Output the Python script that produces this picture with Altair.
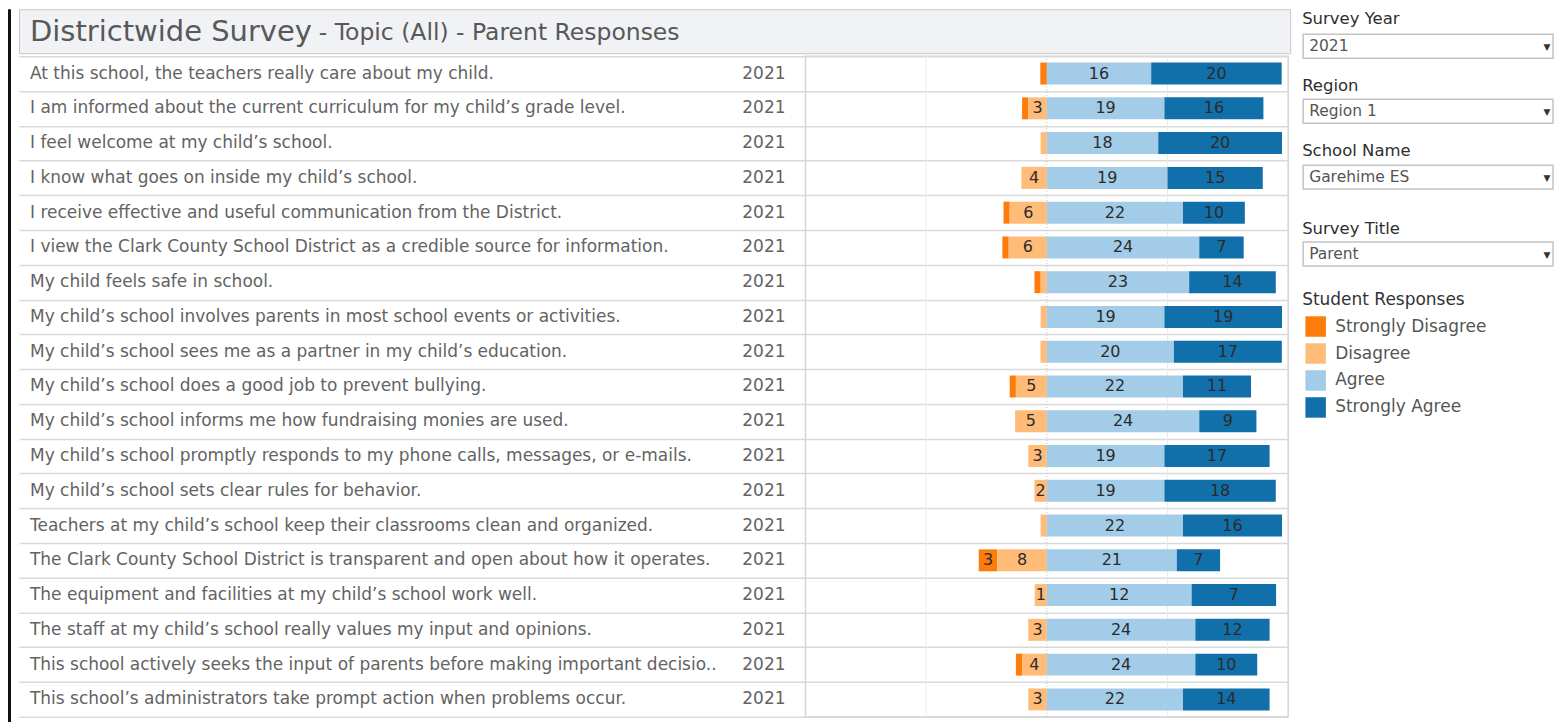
import altair as alt
import pandas as pd

# ---------------- data ----------------
questions = [
    "At this school, the teachers really care about my child.",
    "I am informed about the current curriculum for my child’s grade level.",
    "I feel welcome at my child’s school.",
    "I know what goes on inside my child’s school.",
    "I receive effective and useful communication from the District.",
    "I view the Clark County School District as a credible source for information.",
    "My child feels safe in school.",
    "My child’s school involves parents in most school events or activities.",
    "My child’s school sees me as a partner in my child’s education.",
    "My child’s school does a good job to prevent bullying.",
    "My child’s school informs me how fundraising monies are used.",
    "My child’s school promptly responds to my phone calls, messages, or e-mails.",
    "My child’s school sets clear rules for behavior.",
    "Teachers at my child’s school keep their classrooms clean and organized.",
    "The Clark County School District is transparent and open about how it operates.",
    "The equipment and facilities at my child’s school work well.",
    "The staff at my child’s school really values my input and opinions.",
    "This school actively seeks the input of parents before making important decisio..",
    "This school’s administrators take prompt action when problems occur.",
]
years = ["2021"] * len(questions)
strongly_disagree = [1, 1, 0, 0, 1, 1, 1, 0, 0, 1, 0, 0, 0, 0, 3, 0, 0, 1, 0]
disagree = [0, 3, 1, 4, 6, 6, 1, 1, 1, 5, 5, 3, 2, 1, 8, 1, 3, 4, 3]
agree = [16, 19, 18, 19, 22, 24, 23, 19, 20, 22, 24, 19, 19, 22, 21, 12, 24, 24, 22]
strongly_agree = [20, 16, 20, 15, 10, 7, 14, 19, 17, 11, 9, 17, 18, 16, 7, 7, 12, 10, 14]

responses = ["Strongly Disagree", "Disagree", "Agree", "Strongly Agree"]
colors = ["#fc7d0b", "#ffbc79", "#a3cce9", "#1170aa"]
gridlines = [-50, 50]
zero_line = [0]

title_main = "Districtwide Survey"
title_sub = "- Topic (All) - Parent Responses"
filter_names = ["Survey Year", "Region", "School Name", "Survey Title"]
filter_values = ["2021", "Region 1", "Garehime ES", "Parent"]
legend_title = "Student Responses"

FONT = "DejaVu Sans"

# ---------------- tables ----------------
series = [strongly_disagree, disagree, agree, strongly_agree]
rows = []
for i, q in enumerate(questions):
    for r, s in zip(responses, series):
        rows.append({"question": q, "response": r, "count": s[i]})
long_df = pd.DataFrame(rows)
label_df = pd.DataFrame({"question": questions, "year": years})

# ---------------- layout numbers ----------------
LABEL_W = 787
BAR_W = 483
TABLE_H = 661
TITLE_H = 44

y_axis = alt.Axis(labels=False, ticks=False, domain=False, grid=True,
                  tickBand="extent", gridColor="#d9d9d9", gridWidth=1.5, title=None)
y_enc = alt.Y("question:N", sort=questions,
              scale=alt.Scale(paddingInner=0, paddingOuter=0), axis=y_axis)

# ---------------- label column ----------------
q_text = alt.Chart(label_df).mark_text(
    align="left", baseline="middle", font=FONT, fontSize=17, color="#636363"
).encode(y=y_enc, x=alt.value(11), text="question:N")
yr_text = alt.Chart(label_df).mark_text(
    align="right", baseline="middle", font=FONT, fontSize=17, color="#636363"
).encode(y=y_enc, x=alt.value(767), text="year:N")
label_chart = alt.layer(q_text, yr_text).properties(width=LABEL_W, height=TABLE_H)

# ---------------- bars ----------------
neg_expr = " || ".join([f"datum.response == '{r}'" for r in responses[:2]])
order_expr = "indexof([" + ",".join([f"'{r}'" for r in responses]) + "], datum.response)"

base = alt.Chart(long_df).transform_joinaggregate(
    total="sum(count)", groupby=["question"]
).transform_calculate(
    pct="datum.count / datum.total * 100",
    negpct=f"({neg_expr}) ? datum.count / datum.total * 100 : 0",
    order=order_expr,
).transform_joinaggregate(
    neg="sum(negpct)", groupby=["question"]
).transform_window(
    cum="sum(pct)", groupby=["question"], sort=[alt.SortField("order", order="ascending")]
).transform_calculate(
    x1="datum.cum - datum.pct - datum.neg",
    x2="datum.cum - datum.neg",
    xm="(datum.cum - datum.pct - datum.neg + datum.cum - datum.neg) / 2",
)

xscale = alt.Scale(domain=[-100, 100], nice=False, zero=False)

bars = base.mark_bar(size=22).encode(
    y=y_enc,
    x=alt.X("x1:Q", scale=xscale, axis=None),
    x2="x2:Q",
    color=alt.Color(
        "response:N",
        scale=alt.Scale(domain=responses, range=colors),
        legend=alt.Legend(
            title=legend_title, orient="none", legendX=1295, legendY=283,
            symbolType="square", symbolSize=420, symbolStrokeWidth=0, symbolOffset=3,
            labelFont=FONT, labelFontSize=17, labelColor="#555555",
            titleFont=FONT, titleFontSize=17, titleColor="#333333", titleFontWeight="normal",
            titlePadding=7, rowPadding=6, labelOffset=9, labelLimit=300,
        ),
    ),
)

labels = base.transform_filter("datum.pct >= 4").mark_text(
    font=FONT, fontSize=16, color="#2b2b2b", baseline="middle"
).encode(y=y_enc, x=alt.X("xm:Q", scale=xscale, axis=None), text="count:Q")

grid = alt.Chart(pd.DataFrame({"v": gridlines})).mark_rule(
    color="#ececec", strokeWidth=1
).encode(x=alt.X("v:Q", scale=xscale, axis=None))
zero = alt.Chart(pd.DataFrame({"v": zero_line})).mark_rule(
    color="#bdbdbd", strokeWidth=1, strokeDash=[1, 2]
).encode(x=alt.X("v:Q", scale=xscale, axis=None))

bar_chart = alt.layer(grid, zero, bars, labels).properties(
    width=BAR_W, height=TABLE_H,
    view=alt.ViewBackground(stroke="#d4d4d4", strokeWidth=1.5),
)

table = alt.HConcatChart(hconcat=[label_chart, bar_chart], spacing=0, bounds="flush")

# ---------------- title bar ----------------
tdf = pd.DataFrame({"main": [title_main], "sub": [title_sub]})
t_main = alt.Chart(tdf).mark_text(
    align="left", baseline="middle", font=FONT, fontSize=29, color="#585858"
).encode(x=alt.value(11), y=alt.value(23), text="main:N")
t_sub = alt.Chart(tdf).mark_text(
    align="left", baseline="middle", font=FONT, fontSize=23.5, color="#585858"
).encode(x=alt.value(300), y=alt.value(24), text="sub:N")
title_chart = alt.layer(t_main, t_sub).properties(
    width=1272, height=TITLE_H,
    view=alt.ViewBackground(fill="#f0f2f5", stroke="#c8c8c8", strokeWidth=1),
)

left = alt.VConcatChart(vconcat=[title_chart, table], spacing=3, bounds="flush")

# ---------------- window edge ----------------
edge = alt.Chart(tdf).mark_rect(color="#111111").encode(
    x=alt.value(0), x2=alt.value(3), y=alt.value(0), y2=alt.value(714)
).properties(width=3, height=714)

# ---------------- filter panel ----------------
title_y = [10, 77, 142, 220]
box_top = [25, 90, 156, 233]
side_layers = []
for name, val, ty, bt in zip(filter_names, filter_values, title_y, box_top):
    d = pd.DataFrame({"name": [name], "value": [val], "arrow": ["▼"]})
    side_layers.append(alt.Chart(d).mark_text(
        align="left", baseline="middle", font=FONT, fontSize=16.5, color="#2e2e2e"
    ).encode(x=alt.value(4), y=alt.value(ty), text="name:N"))
    side_layers.append(alt.Chart(d).mark_rect(
        fill="#ffffff", stroke="#c4c4c4", strokeWidth=1.5
    ).encode(x=alt.value(5), x2=alt.value(255), y=alt.value(bt), y2=alt.value(bt + 24)))
    side_layers.append(alt.Chart(d).mark_text(
        align="left", baseline="middle", font=FONT, fontSize=15.5, color="#555555"
    ).encode(x=alt.value(11), y=alt.value(bt + 12), text="value:N"))
    side_layers.append(alt.Chart(d).mark_text(
        align="center", baseline="middle", font=FONT, fontSize=9, color="#333333"
    ).encode(x=alt.value(249), y=alt.value(bt + 13), text="arrow:N"))

side_chart = alt.layer(*side_layers).properties(width=255, height=420)

chart = alt.HConcatChart(
    hconcat=[edge, left, side_chart], spacing=7,
    padding={"left": 0, "top": 0, "right": 0, "bottom": 0},
).configure_view(strokeWidth=0)

chart.save("out.html", embed_options={"renderer": "svg", "actions": False})
